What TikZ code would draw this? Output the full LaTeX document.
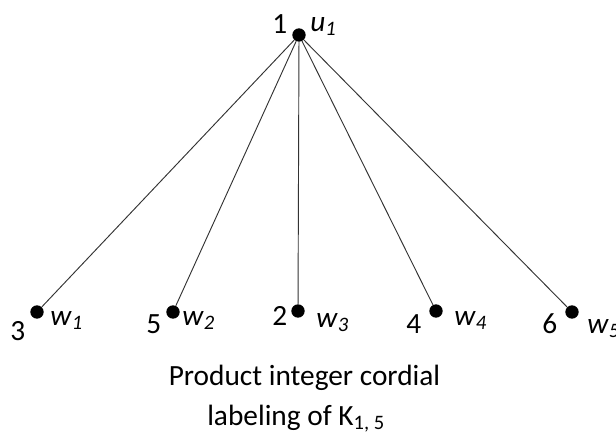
\documentclass[tikz,border=0pt]{standalone}
\usepackage{fontspec}
\setmainfont{Carlito}
\begin{document}
\begin{tikzpicture}[x=0.75pt,y=-0.75pt,
  vtx/.style={circle,fill=black,inner sep=0pt,minimum size=10pt},
  lbl/.style={inner sep=0pt,anchor=base west,font=\fontsize{22}{26}\selectfont},
  edge/.style={draw=black!80,line width=0.7pt}]
\useasboundingbox (0,0) rectangle (616,432);
\node[vtx] (u1) at (299,35) {};
\node[vtx] (w1) at (37,312) {};
\node[vtx] (w2) at (173,312) {};
\node[vtx] (w3) at (298,311) {};
\node[vtx] (w4) at (436,311) {};
\node[vtx] (w5) at (572,312) {};
\foreach \w in {w1,w2,w3,w4,w5} \draw[edge] (u1) -- (\w);
% vertex labels
\node[lbl] (n1) at (272,33) {1};
\node[lbl] (lu1) at (310,31) {\textit{u}\textsubscript{\textit{1}}};
\node[lbl] (n3) at (10,340) {3};
\node[lbl] (lw1) at (50,325) {\textit{w}\textsubscript{\textit{1}}};
\node[lbl] (n5) at (146,333) {5};
\node[lbl] (lw2) at (182,325) {\textit{w}\textsubscript{\textit{2}}};
\node[lbl] (n2) at (272,325) {2};
\node[lbl] (lw3) at (316,327) {\textit{w}\textsubscript{\textit{3}}};
\node[lbl] (n4) at (406,333) {4};
\node[lbl] (lw4) at (454,325) {\textit{w}\textsubscript{\textit{4}}};
\node[lbl] (n6) at (542,333) {6};
\node[lbl] (lw5) at (587,333) {\textit{w}\textsubscript{\textit{5}}};
% caption
\node[inner sep=0pt,anchor=base,font=\fontsize{22}{26}\selectfont] (t1) at (304.5,385) {Product integer cordial};
\node[inner sep=0pt,anchor=base west,font=\fontsize{22}{26}\selectfont] (t2) at (207,425) {labeling of K\textsubscript{1, 5}};
\end{tikzpicture}
\end{document}
